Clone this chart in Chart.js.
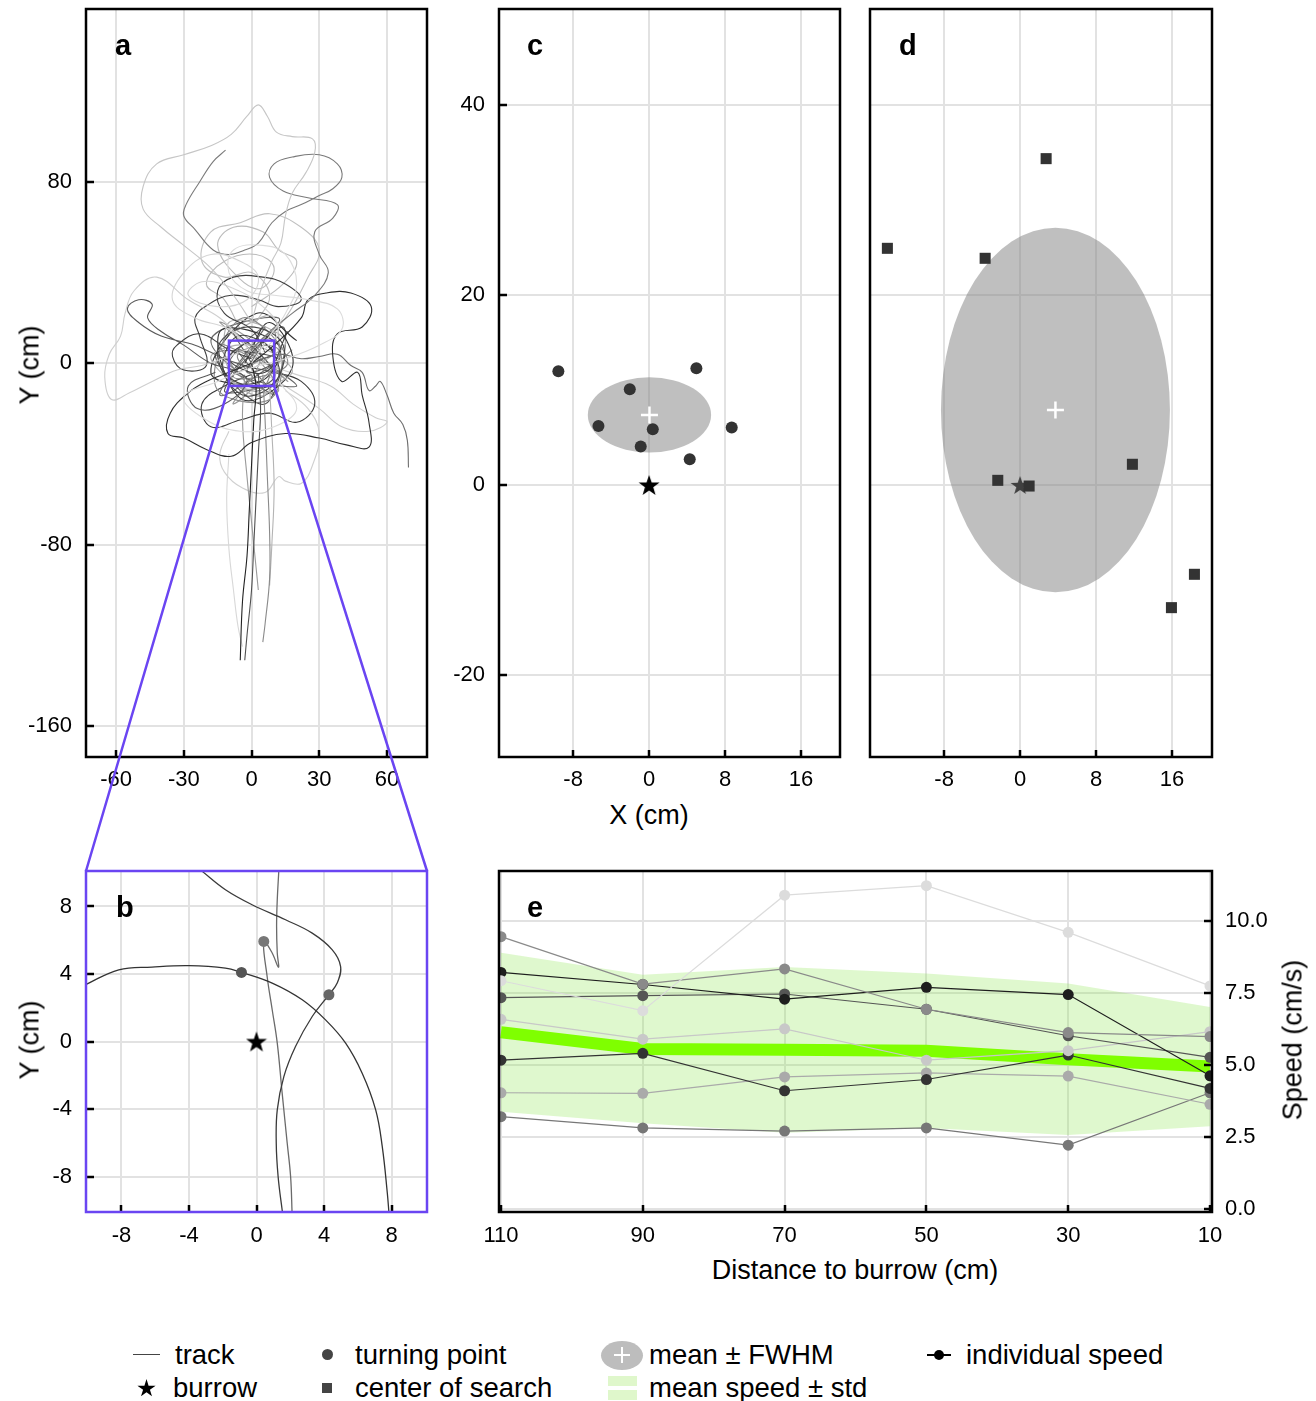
<!DOCTYPE html>
<html>
<head>
<meta charset="utf-8">
<title>Search around the burrow</title>
<script src="https://cdn.jsdelivr.net/npm/chart.js"></script>
<style>
  body { margin: 0; background: #fff; }
  #page { position: relative; width: 1316px; height: 1401px; overflow: hidden;
          font-family: "Liberation Sans", Arial, Helvetica, sans-serif; color: #000; }
  canvas { position: absolute; }
  .t { position: absolute; white-space: nowrap; line-height: 1; }
  .letter { font-size: 29px; font-weight: bold; }
  .title { font-size: 27px; transform: translate(-50%, -50%); }
  .vtitle { font-size: 27px; transform: translate(-50%, -50%) rotate(-90deg); }
  .leg { font-size: 27.5px; }
  .sym { position: absolute; }
</style>
</head>
<body>
<div id="page">
  <canvas id="chartA"></canvas>
  <canvas id="chartB"></canvas>
  <canvas id="chartC"></canvas>
  <canvas id="chartD"></canvas>
  <canvas id="chartE"></canvas>

  <div class="t letter" style="left:115px; top:31px;">a</div>
  <div class="t letter" style="left:116px; top:893px;">b</div>
  <div class="t letter" style="left:527px; top:31px;">c</div>
  <div class="t letter" style="left:899px; top:31px;">d</div>
  <div class="t letter" style="left:527px; top:893px;">e</div>

  <div class="t vtitle" style="left:30px; top:365px;">Y (cm)</div>
  <div class="t vtitle" style="left:30px; top:1040px;">Y (cm)</div>
  <div class="t title" style="left:649px; top:815px;">X (cm)</div>
  <div class="t title" style="left:855px; top:1270px;">Distance to burrow (cm)</div>
  <div class="t vtitle" style="left:1293px; top:1040px;">Speed (cm/s)</div>

  <!-- legend -->
  <div class="sym" style="left:133px; top:1354px; width:27px; height:1px; background:#444;"></div>
  <div class="t leg" style="left:175px; top:1341px;">track</div>
  <div class="sym" style="left:137px; top:1379px; width:19px; height:19px; background:#000;
       clip-path: polygon(50% 0%, 61% 35%, 98% 35%, 68% 57%, 79% 91%, 50% 70%, 21% 91%, 32% 57%, 2% 35%, 39% 35%);"></div>
  <div class="t leg" style="left:173px; top:1374px;">burrow</div>

  <div class="sym" style="left:322px; top:1349px; width:11px; height:11px; border-radius:50%; background:#444;"></div>
  <div class="t leg" style="left:355px; top:1341px;">turning point</div>
  <div class="sym" style="left:322px; top:1383px; width:10px; height:10px; background:#444;"></div>
  <div class="t leg" style="left:355px; top:1374px;">center of search</div>

  <div class="sym" style="left:601px; top:1341px; width:42px; height:29px; border-radius:50%; background:#bdbdbd;"></div>
  <div class="sym" style="left:614px; top:1354px; width:16px; height:2px; background:#fff;"></div>
  <div class="sym" style="left:621px; top:1347px; width:2px; height:16px; background:#fff;"></div>
  <div class="t leg" style="left:649px; top:1341px;">mean ± FWHM</div>
  <div class="sym" style="left:608px; top:1376px; width:29px; height:10px; background:#dff7cb;"></div>
  <div class="sym" style="left:608px; top:1390px; width:29px; height:10px; background:#dff7cb;"></div>
  <div class="t leg" style="left:649px; top:1374px;">mean speed ± std</div>

  <div class="sym" style="left:927px; top:1354px; width:24px; height:1.5px; background:#000;"></div>
  <div class="sym" style="left:934px; top:1350px; width:10px; height:10px; border-radius:50%; background:#000;"></div>
  <div class="t leg" style="left:966px; top:1341px;">individual speed</div>
</div>

<script>
// ---------------- data ----------------
// panel a: foraging tracks (cm)
var track01 = [[0,18],[-8,30],[-18,42],[-30,52],[-40,60],[-48,68],[-48,78],[-42,88],[-30,92],[-18,96],[-9,101],[-2,109],[3,114],[7,109],[11,102],[18,100],[27,99],[28,93],[24,84],[18,75],[15,65],[13,53],[9,45],[4,32],[0,18]];
var track02 = [[-4,10],[-14,20],[-28,28],[-42,38],[-52,32],[-56,22],[-58,12],[-63,4],[-65,-6],[-62,-16],[-54,-13],[-44,-8],[-33,-3],[-22,-1],[-10,3],[-2,6]];
var track03 = [[0,5],[-10,15],[-25,20],[-35,28],[-30,40],[-18,48],[-5,45],[3,38],[-2,28],[-15,25],[-28,30],[-22,36],[-8,33],[5,25],[12,15],[5,5]];
var track04 = [[0,0],[8,12],[15,22],[20,35],[15,48],[5,52],[-8,50],[-10,40],[-2,32],[10,30],[25,28],[38,24],[40,15],[30,8],[15,2],[0,-2],[-15,-8],[-30,-15],[-20,-25],[-5,-30],[10,-28],[20,-20],[12,-8]];
var track05 = [[-11.5,94],[-17,89],[-23,80],[-29,70],[-30,65],[-25,59],[-17,50],[-10,48],[-3,50],[3,53],[9,62],[15,67],[22,70],[30,74],[36,77],[40,82],[38,88],[30,92],[18,91],[10,88],[8,82],[14,76],[25,73],[38,70],[36,64],[28,58],[30,48],[34,40],[28,30],[18,22],[8,14],[0,6]];
var track06 = [[0,0],[10,8],[22,20],[25,28],[33,31],[44,31],[53,25],[49,16],[38,13],[36,3],[40,-8],[47,-4],[49,-14],[52,-26],[52,-37],[42,-36],[30,-33],[15,-31],[0,-35],[-9,-41],[-20,-38],[-30,-33],[-37,-31],[-36,-22],[-28,-13],[-20,-8],[-10,-4],[0,0]];
var track07 = [[0,2],[-10,6],[-23,13],[-33,8],[-35,3],[-30,-3],[-20,-1],[-23,12],[-25,20],[-19,26],[-9,30],[3,28],[12,25],[22,28],[15,35],[5,38],[-8,38],[-15,32],[-12,22],[0,15],[6,5]];
var track08 = [[0,-2],[-12,2],[-25,8],[-40,12],[-50,18],[-55,24],[-50,28],[-44,26],[-46,20],[-40,14],[-30,8],[-18,0],[-8,-3],[-2,-8],[-12,-18],[-24,-20],[-28,-10],[-16,-4]];
var track09 = [[0,0],[12,4],[22,2],[30,3],[38,4],[44,-1],[49,-4],[52,-12],[55,-10],[57,-8],[60,-14],[63,-22],[67,-27],[69,-34],[69.5,-46]];
var track10 = [[0,0],[2,-10],[1,-25],[0,-45],[-1,-65],[-2,-85],[-4,-105],[-5,-131]];
var track11 = [[3,-5],[4,-20],[3,-40],[2,-60],[1,-80],[0,-100],[-2,-120],[-3,-131]];
var track12 = [[5,-5],[6,-25],[7,-50],[8,-75],[8,-95],[6,-115],[5,-123]];
var track13 = [[-3,-5],[-4,-25],[-2,-50],[0,-70],[2,-90],[3,-100]];
var track14 = [[8,-10],[9,-30],[10,-55],[9,-80],[8,-98]];
var track15 = [[-10,-30],[-14,-40],[-12,-48],[-4,-55],[6,-57],[12,-50],[15,-52],[22,-53],[27,-45],[30,-31],[25,-20],[15,-12]];
var track16 = [[-10,-40],[-11,-60],[-10,-82],[-8,-100],[-6,-116],[-4,-125]];
var track17 = [[0,0],[10,5],[-6,12],[-12,-4],[8,-10],[14,8],[-2,16],[-15,6],[-4,-14],[12,-6],[4,10],[-10,2],[6,-4],[16,14]];
var track18 = [[2,2],[-14,8],[4,-12],[10,14],[-8,-6],[16,0],[-4,20],[-16,-10],[8,-16],[12,6],[-6,4],[2,-8]];
var track19 = [[0,-3],[15,10],[-10,18],[-6,-10],[18,-4],[0,8],[-18,2],[6,-14],[10,20],[-12,12]];
var track20 = [[-3,0],[8,18],[18,-2],[-4,-16],[-14,14],[12,8],[4,-8],[-18,-4],[2,22],[20,10]];
var track21 = [[0,0],[-8,14],[10,-6],[-12,-12],[14,16],[6,-18],[-16,4],[12,2],[-2,-4],[8,12]];
var track22 = [[3,1],[-10,-8],[12,-12],[-4,10],[16,-8],[-14,18],[4,4],[-8,-18],[18,6]];
var track23 = [[-1,2],[12,20],[-18,10],[10,-14],[-6,6],[20,-10],[-10,-2],[6,16],[-14,-14],[14,2]];
var track24 = [[-5,15],[-12,28],[-20,35],[-12,45],[2,48],[10,42],[4,33],[-6,38],[-15,52],[-8,60],[5,58],[12,50],[20,45],[14,35],[0,25]];
var track25 = [[5,10],[15,20],[25,38],[30,50],[22,60],[8,66],[-5,62],[-18,58],[-22,45],[-12,38],[0,40],[8,30],[2,18]];
var track26 = [[0,-5],[-12,-10],[-22,-18],[-18,-28],[-5,-25],[8,-22],[20,-26],[28,-18],[22,-8],[10,-4],[0,-2]];
var track27 = [[5,0],[20,-5],[35,-10],[45,-18],[55,-24],[60,-26],[52,-30],[40,-28],[30,-20],[18,-12],[8,-6]];
var tracksA = [track01, track02, track03, track04, track05, track06, track07, track08, track09, track10,
               track11, track12, track13, track14, track15, track16, track17, track18, track19, track20,
               track21, track22, track23, track24, track25, track26, track27];
var shadesA = ['#c6c6c6', '#cfcfcf', '#d6d6d6', '#dcdcdc', '#7a7a7a', '#2e2e2e', '#404040', '#5a5a5a', '#6e6e6e', '#222222',
               '#505050', '#8a8a8a', '#9a9a9a', '#b4b4b4', '#d0d0d0', '#d8d8d8', '#444444', '#888888', '#b0b0b0', '#333333',
               '#555555', '#999999', '#666666', '#bbbbbb', '#c0c0c0', '#3a3a3a', '#cfcfcf'];
var zoomWin = [-10, 10];

// panel b: three tracks close to the burrow
var trackB1 = [[-10.14,3.36],[-8.16,4.25],[-6.19,4.41],[-4.01,4.49],[-1.84,4.35],[-0.89,4.09],[0.93,3.46],[2.71,2.47],[4.09,1.28],[5.28,-0.1],[6.26,-1.88],[7.06,-4.05],[7.45,-6.23],[7.75,-8.99],[7.85,-10.2]];
var trackB2 = [[-3.22,10.08],[-1.84,8.99],[-0.26,8.1],[1.72,7.21],[3.3,6.42],[4.49,5.43],[4.98,4.45],[4.78,3.46],[4.29,2.77],[3.3,1.48],[2.31,-0.3],[1.62,-2.08],[1.23,-4.05],[1.17,-6.03],[1.28,-8.0],[1.52,-9.98],[1.56,-10.2]];
var trackB3 = [[1.32,10.08],[1.23,8.4],[1.19,6.82],[1.23,5.24],[1.3,4.4],[0.9,5.3],[0.43,5.93],[0.63,3.85],[0.93,1.88],[1.23,-0.1],[1.52,-3.06],[1.82,-6.03],[2.02,-8.0],[2.11,-10.2]];
var tracksB = [trackB1, trackB2, trackB3];
var shadesB = ['#333333', '#3a3a3a', '#6a6a6a'];
var turnBX = [0.43, -0.89, 4.29];
var turnBY = [5.93, 4.09, 2.77];
var turnBShade = ['#777777', '#555555', '#666666'];

// panel c: turning points (cm)
var turnX = [-9.55, 4.98, -2.03, -5.33, 0.39, 8.70, -0.88, 4.28];
var turnY = [11.97, 12.28, 10.07, 6.21, 5.86, 6.04, 4.04, 2.70];
var turnMean = [0.04, 7.37];
var turnFwhm = [6.49, 3.96];

// panel d: centres of search (cm)
var searchX = [2.74, -13.97, -3.68, 11.82, -2.35, 0.95, 18.35, 15.93];
var searchY = [34.35, 24.91, 23.86, 2.18, 0.49, -0.11, -9.40, -12.91];
var searchMean = [3.72, 7.89];
var searchFwhm = [12.05, 19.19];

// panel e: speed (cm/s) against distance to the burrow (cm)
var distances = [110, 90, 70, 50, 30, 10];
var speed1 = [7.93, 6.89, 10.90, 11.23, 9.61, 7.75];
var speed2 = [9.46, 7.81, 8.34, 6.94, 6.13, 5.99];
var speed3 = [8.22, 7.80, 7.29, 7.70, 7.45, 4.63];
var speed4 = [7.34, 7.41, 7.47, 6.94, 6.02, 5.27];
var speed5 = [6.59, 5.90, 6.26, 5.17, 5.50, 6.16];
var speed6 = [5.17, 5.41, 4.11, 4.50, 5.35, 4.19];
var speed7 = [4.04, 4.02, 4.59, 4.73, 4.62, 3.64];
var speed8 = [3.21, 2.82, 2.71, 2.82, 2.22, 4.04];
var speedSeries = [speed1, speed2, speed3, speed4, speed5, speed6, speed7, speed8];
var speedShades = ['#dcdcdc', '#8a8a8a', '#1e1e1e', '#555555', '#c8c8c8', '#333333', '#aaaaaa', '#777777'];
var meanSpeed = [6.14, 5.56, 5.53, 5.50, 5.20, 4.95];
var stdSpeed = [2.76, 2.58, 2.88, 2.68, 2.63, 2.07];

// tick values
var ticksAX = [-60, -30, 0, 30, 60];
var ticksAY = [80, 0, -80, -160];
var ticksB = [-8, -4, 0, 4, 8];
var ticksCDX = [-8, 0, 8, 16];
var ticksCDY = [40, 20, 0, -20];
var ticksEX = [110, 90, 70, 50, 30, 10];
var ticksEY = [0, 2.5, 5, 7.5, 10];

// ---------------- layout ----------------
var FONT = '"Liberation Sans", Arial, Helvetica, sans-serif';
var GRID = '#e2e2e2';
var PURPLE = '#6a45f2';
// plot boxes on the page [left, top, right, bottom] and canvas margins [left, top, right, bottom]
var BOX = { a: [86, 9, 427, 757], b: [86, 871, 427, 1212], c: [499, 9, 840, 757], d: [870, 9, 1212, 757], e: [499, 871, 1212, 1212] };
var MARGIN = { a: [86, 29, 20, 116], b: [86, 29, 20, 40], c: [69, 29, 15, 40], d: [20, 29, 20, 40], e: [29, 29, 104, 40] };

function pts(pairs) {
    return pairs.map(function (p) { return { x: p[0], y: p[1] }; });
}

function starImage(size, color) {
    var c = document.createElement('canvas');
    c.width = c.height = size;
    var g = c.getContext('2d');
    var r = size / 2, ri = r * 0.4;
    g.beginPath();
    for (var i = 0; i < 10; i++) {
        var rr = i % 2 ? ri : r;
        var ang = -Math.PI / 2 + i * Math.PI / 5;
        g.lineTo(r + rr * Math.cos(ang), r + 1 + rr * Math.sin(ang));
    }
    g.closePath();
    g.fillStyle = color;
    g.fill();
    return c;
}

// box round the plot area plus short inward ticks
function frame(color, sides) {
    return {
        id: 'frame',
        afterDraw(chart) {
            var ctx = chart.ctx, a = chart.chartArea, sx = chart.scales.x, sy = chart.scales.y;
            ctx.save();
            ctx.strokeStyle = '#000';
            ctx.lineWidth = 2.5;
            ctx.beginPath();
            if (sides.indexOf('bottom') >= 0) {
                sx.ticks.forEach(function (t) {
                    var px = Math.round(sx.getPixelForValue(t.value));
                    ctx.moveTo(px, a.bottom); ctx.lineTo(px, a.bottom - 7);
                });
            }
            if (sides.indexOf('left') >= 0) {
                sy.ticks.forEach(function (t) {
                    var py = Math.round(sy.getPixelForValue(t.value));
                    ctx.moveTo(a.left, py); ctx.lineTo(a.left + 8, py);
                });
            }
            if (sides.indexOf('right') >= 0) {
                sy.ticks.forEach(function (t) {
                    var py = Math.round(sy.getPixelForValue(t.value));
                    ctx.moveTo(a.right, py); ctx.lineTo(a.right - 8, py);
                });
            }
            ctx.stroke();
            ctx.strokeStyle = color;
            ctx.lineWidth = 2.5;
            ctx.strokeRect(a.left, a.top, a.right - a.left, a.bottom - a.top);
            ctx.restore();
        }
    };
}

// shaded mean +- FWHM ellipse, drawn right after the dataset with the given index
function fwhmEllipse(center, semi, afterIndex) {
    return {
        id: 'fwhm',
        afterDatasetDraw(chart, args) {
            if (args.index !== afterIndex) return;
            var ctx = chart.ctx, sx = chart.scales.x, sy = chart.scales.y, a = chart.chartArea;
            var cx = sx.getPixelForValue(center[0]), cy = sy.getPixelForValue(center[1]);
            var rx = Math.abs(sx.getPixelForValue(center[0] + semi[0]) - cx);
            var ry = Math.abs(sy.getPixelForValue(center[1] + semi[1]) - cy);
            ctx.save();
            ctx.beginPath();
            ctx.rect(a.left, a.top, a.right - a.left, a.bottom - a.top);
            ctx.clip();
            ctx.beginPath();
            ctx.ellipse(cx, cy, rx, ry, 0, 0, Math.PI * 2);
            ctx.fillStyle = 'rgba(128,128,128,0.5)';
            ctx.fill();
            ctx.restore();
        }
    };
}

function axis(a, position, size) {
    return {
        type: 'linear',
        position: position,
        min: a.range[0],
        max: a.range[1],
        reverse: !!a.reverse,
        grid: { color: GRID, lineWidth: 2, drawTicks: false },
        border: { display: false },
        ticks: {
            display: a.labels !== false,
            padding: a.pad || 0,
            autoSkip: false,
            maxRotation: 0,
            color: '#000',
            font: { family: FONT, size: 22 },
            callback: a.fmt || function (v) { return String(v); }
        },
        afterBuildTicks: function (s) { s.ticks = a.ticks.map(function (v) { return { value: v }; }); },
        afterFit: function (s) {
            if (position === 'bottom') s.height = size; else s.width = size;
        }
    };
}

function makeChart(id, key, cfg) {
    var box = BOX[key], m = MARGIN[key];
    var cv = document.getElementById(id);
    cv.width = box[2] - box[0] + m[0] + m[2];
    cv.height = box[3] - box[1] + m[1] + m[3];
    cv.style.left = (box[0] - m[0]) + 'px';
    cv.style.top = (box[1] - m[1]) + 'px';
    var yRight = cfg.yPos === 'right';
    return new Chart(cv, {
        type: 'scatter',
        data: { datasets: cfg.datasets },
        options: {
            responsive: false,
            animation: false,
            events: [],
            layout: { padding: { top: m[1], right: yRight ? 0 : m[2], left: yRight ? m[0] : 0, bottom: 0 } },
            plugins: { legend: { display: false }, tooltip: { enabled: false } },
            scales: {
                x: axis(cfg.x, 'bottom', m[3]),
                y: axis(cfg.y, yRight ? 'right' : 'left', yRight ? m[2] : m[0])
            }
        },
        plugins: [frame(cfg.frameColor || '#000', cfg.tickSides)].concat(cfg.plugins || [])
    });
}

function trackSet(list, shades, width) {
    return list.map(function (tr, i) {
        return {
            type: 'line', data: pts(tr), borderColor: shades[i], borderWidth: width,
            pointRadius: 0, tension: 0.4, fill: false, order: 5
        };
    });
}

// ---------------- panel a ----------------
var linkPlugin = {
    id: 'zoomLink',
    afterDraw(chart) {
        var ctx = chart.ctx, sx = chart.scales.x, sy = chart.scales.y;
        var x0 = sx.getPixelForValue(zoomWin[0]), x1 = sx.getPixelForValue(zoomWin[1]);
        var yTop = sy.getPixelForValue(zoomWin[1]), yBot = sy.getPixelForValue(zoomWin[0]);
        // corners of panel b in this canvas' coordinates
        var offX = BOX.a[0] - MARGIN.a[0], offY = BOX.a[1] - MARGIN.a[1];
        var bl = BOX.b[0] - offX, br = BOX.b[2] - offX, bt = BOX.b[1] - offY;
        ctx.save();
        ctx.strokeStyle = PURPLE;
        ctx.lineWidth = 2.5;
        ctx.strokeRect(x0, yTop, x1 - x0, yBot - yTop);
        ctx.beginPath();
        ctx.moveTo(x0, yBot); ctx.lineTo(bl, bt);
        ctx.moveTo(x1, yBot); ctx.lineTo(br, bt);
        ctx.stroke();
        ctx.restore();
    }
};

makeChart('chartA', 'a', {
    datasets: trackSet(tracksA, shadesA, 1.1),
    x: { range: [-73.3, 77.7], ticks: ticksAX, pad: 10 },
    y: { range: [-173.7, 156.3], ticks: ticksAY, pad: 14 },
    tickSides: ['left', 'bottom'],
    plugins: [linkPlugin]
});

// ---------------- panel b ----------------
var starBig = starImage(22, '#000');
makeChart('chartB', 'b', {
    datasets: trackSet(tracksB, shadesB, 1.3).concat([
        { data: turnBX.map(function (x, i) { return { x: x, y: turnBY[i] }; }),
          pointRadius: 5.5, pointBorderWidth: 0, backgroundColor: turnBShade, order: 2 },
        { data: [{ x: 0, y: 0 }], pointStyle: starBig, pointRadius: 11, order: 1 }
    ]),
    x: { range: [-10.1, 10.1], ticks: ticksB, pad: 11 },
    y: { range: [-10.1, 10.1], ticks: ticksB, pad: 14 },
    frameColor: PURPLE,
    tickSides: ['left', 'bottom']
});

// ---------------- panel c ----------------
makeChart('chartC', 'c', {
    datasets: [
        { data: [{ x: 0, y: 0 }], pointStyle: starBig, pointRadius: 11, order: 3 },
        { data: turnX.map(function (x, i) { return { x: x, y: turnY[i] }; }),
          pointRadius: 6, pointBorderWidth: 0, backgroundColor: '#333333', order: 2 },
        { data: [{ x: turnMean[0], y: turnMean[1] }], pointStyle: 'cross', pointRadius: 8.5,
          borderColor: '#ffffff', pointBorderWidth: 2.5, order: 1 }
    ],
    x: { range: [-15.8, 20.1], ticks: ticksCDX, pad: 10 },
    y: { range: [-28.63, 50.1], ticks: ticksCDY, pad: 14 },
    tickSides: ['left', 'bottom'],
    plugins: [fwhmEllipse(turnMean, turnFwhm, 0)]
});

// ---------------- panel d ----------------
makeChart('chartD', 'd', {
    datasets: [
        { data: [{ x: 0, y: 0 }], pointStyle: starImage(20, '#000'), pointRadius: 10, order: 3 },
        { data: searchX.map(function (x, i) { return { x: x, y: searchY[i] }; }),
          pointStyle: 'rect', pointRadius: 7.8, pointBorderWidth: 0, backgroundColor: '#333333', order: 2 },
        { data: [{ x: searchMean[0], y: searchMean[1] }], pointStyle: 'cross', pointRadius: 8.5,
          borderColor: '#ffffff', pointBorderWidth: 2.5, order: 1 }
    ],
    x: { range: [-15.8, 20.2], ticks: ticksCDX, pad: 10 },
    y: { range: [-28.63, 50.1], ticks: ticksCDY, labels: false },
    tickSides: ['bottom'],
    plugins: [fwhmEllipse(searchMean, searchFwhm, 0)]
});

// ---------------- panel e ----------------
var bandUpper = distances.map(function (d, i) { return { x: d, y: meanSpeed[i] + stdSpeed[i] }; });
var bandLower = distances.map(function (d, i) { return { x: d, y: meanSpeed[i] - stdSpeed[i] }; });
var eSets = [
    { type: 'line', data: bandUpper, borderColor: 'rgba(0,0,0,0)', borderWidth: 0, pointRadius: 0,
      fill: '+1', backgroundColor: 'rgba(140,230,80,0.28)', tension: 0, order: 4 },
    { type: 'line', data: bandLower, borderColor: 'rgba(0,0,0,0)', borderWidth: 0, pointRadius: 0,
      fill: false, tension: 0, order: 4 },
    { type: 'line', data: distances.map(function (d, i) { return { x: d, y: meanSpeed[i] }; }),
      borderColor: '#7fff00', borderWidth: 12, pointRadius: 0, fill: false, tension: 0, order: 3 }
];
speedSeries.forEach(function (s, k) {
    eSets.push({
        type: 'line', data: distances.map(function (d, i) { return { x: d, y: s[i] }; }),
        borderColor: speedShades[k], backgroundColor: speedShades[k], borderWidth: 1.2,
        pointRadius: 5.5, pointBorderWidth: 0, fill: false, tension: 0, order: 1
    });
});
makeChart('chartE', 'e', {
    datasets: eSets,
    x: { range: [9.72, 110.28], reverse: true, ticks: ticksEX, pad: 11 },
    y: { range: [-0.1, 11.74], ticks: ticksEY, pad: 13, fmt: function (v) { return v.toFixed(1); } },
    yPos: 'right',
    tickSides: ['right', 'bottom']
});
</script>
</body>
</html>
